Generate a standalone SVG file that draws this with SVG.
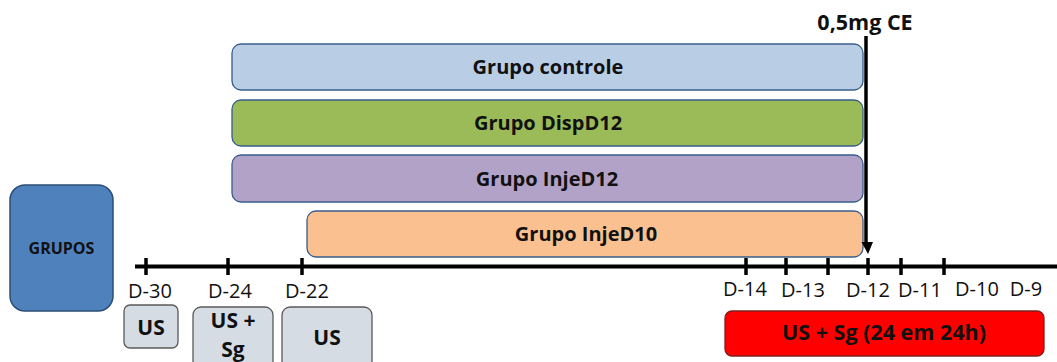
<svg xmlns="http://www.w3.org/2000/svg" width="1057" height="362" viewBox="0 0 1057 362">
  <style>
    .bar { stroke: #385d8a; stroke-width: 1.3; }
    .lbl { font-family: "Open Sans", "Liberation Sans", sans-serif; font-weight: bold; font-size: 20px; fill: #111; text-anchor: middle; }
    .day { font-family: "Open Sans", "Liberation Sans", sans-serif; font-size: 20px; fill: #111; text-anchor: middle; }
    .us { fill: #d6dce4; stroke: #595959; stroke-width: 1.3; }
    .axis { stroke: #000; stroke-width: 4; fill: none; }
    .tick { stroke: #000; stroke-width: 3.5; }
  </style>
  <rect width="1057" height="362" fill="#fff"/>

  <!-- group bars -->
  <g id="grupo-controle">
    <rect class="bar" x="232" y="44" width="631" height="46" rx="9" fill="#b9cde5"/>
    <text class="lbl" x="548" y="74">Grupo controle</text>
  </g>
  <g id="grupo-dispd12">
    <rect class="bar" x="232" y="100" width="631" height="46" rx="9" fill="#9bbb59"/>
    <text class="lbl" x="548" y="130">Grupo DispD12</text>
  </g>
  <g id="grupo-injed12">
    <rect class="bar" x="232" y="155" width="631" height="47" rx="9" fill="#b2a2c7"/>
    <text class="lbl" x="547" y="186">Grupo InjeD12</text>
  </g>
  <g id="grupo-injed10">
    <rect class="bar" x="307" y="211" width="556" height="46" rx="9" fill="#fac090"/>
    <text class="lbl" x="586" y="241">Grupo InjeD10</text>
  </g>

  <!-- groups label -->
  <g id="grupos">
    <rect x="10" y="185" width="103" height="126" rx="15" fill="#4f81bd" stroke="#2c4d75" stroke-width="1.5"/>
    <text class="lbl" x="61.5" y="254" style="font-size:16px">GRUPOS</text>
  </g>

  <!-- timeline and dose marker -->
  <g id="connectors">
    <line class="axis" x1="135" y1="266.5" x2="1057" y2="266.5"/>
    <line class="tick" x1="146" y1="258" x2="146" y2="275"/>
    <line class="tick" x1="228" y1="258" x2="228" y2="275"/>
    <line class="tick" x1="302" y1="258" x2="302" y2="275"/>
    <line class="tick" x1="746" y1="258" x2="746" y2="275"/>
    <line class="tick" x1="786" y1="258" x2="786" y2="275"/>
    <line class="tick" x1="828" y1="258" x2="828" y2="275"/>
    <line class="tick" x1="868" y1="258" x2="868" y2="275"/>
    <line class="tick" x1="901" y1="258" x2="901" y2="275"/>
    <line class="tick" x1="944" y1="258" x2="944" y2="275"/>
    <line x1="866" y1="36" x2="866" y2="244" stroke="#000" stroke-width="3.5"/>
    <polygon points="861.5,242 873,242 868,254" fill="#000"/>
  </g>

  <g id="dose-label">
    <text class="lbl" x="865" y="30" style="font-size:21.5px">0,5mg CE</text>
  </g>

  <!-- day labels -->
  <g id="days">
    <text class="day" x="150" y="298">D-30</text>
    <text class="day" x="230" y="298">D-24</text>
    <text class="day" x="307" y="298">D-22</text>
    <text class="day" x="745" y="296">D-14</text>
    <text class="day" x="803" y="297">D-13</text>
    <text class="day" x="868" y="297">D-12</text>
    <text class="day" x="920" y="297">D-11</text>
    <text class="day" x="977" y="296">D-10</text>
    <text class="day" x="1026" y="296">D-9</text>
  </g>

  <!-- procedure boxes -->
  <g id="us-d30">
    <rect class="us" x="124" y="305" width="54" height="43" rx="6"/>
    <text class="lbl" x="151" y="335" style="font-size:21px">US</text>
  </g>
  <g id="us-sg-d24">
    <rect class="us" x="193" y="307" width="80" height="62" rx="8"/>
    <text class="lbl" x="233" y="328" style="font-size:21px">US +</text>
    <text class="lbl" x="233" y="357" style="font-size:21px">Sg</text>
  </g>
  <g id="us-d22">
    <rect class="us" x="282" y="307" width="90" height="62" rx="8"/>
    <text class="lbl" x="327" y="345" style="font-size:21px">US</text>
  </g>
  <g id="us-sg-daily">
    <rect x="725" y="311" width="319" height="45" rx="7" fill="#ff0000" stroke="#7f1f1f" stroke-width="1.3"/>
    <text class="lbl" x="884" y="340" style="font-size:21.5px">US + Sg (24 em 24h)</text>
  </g>
</svg>
